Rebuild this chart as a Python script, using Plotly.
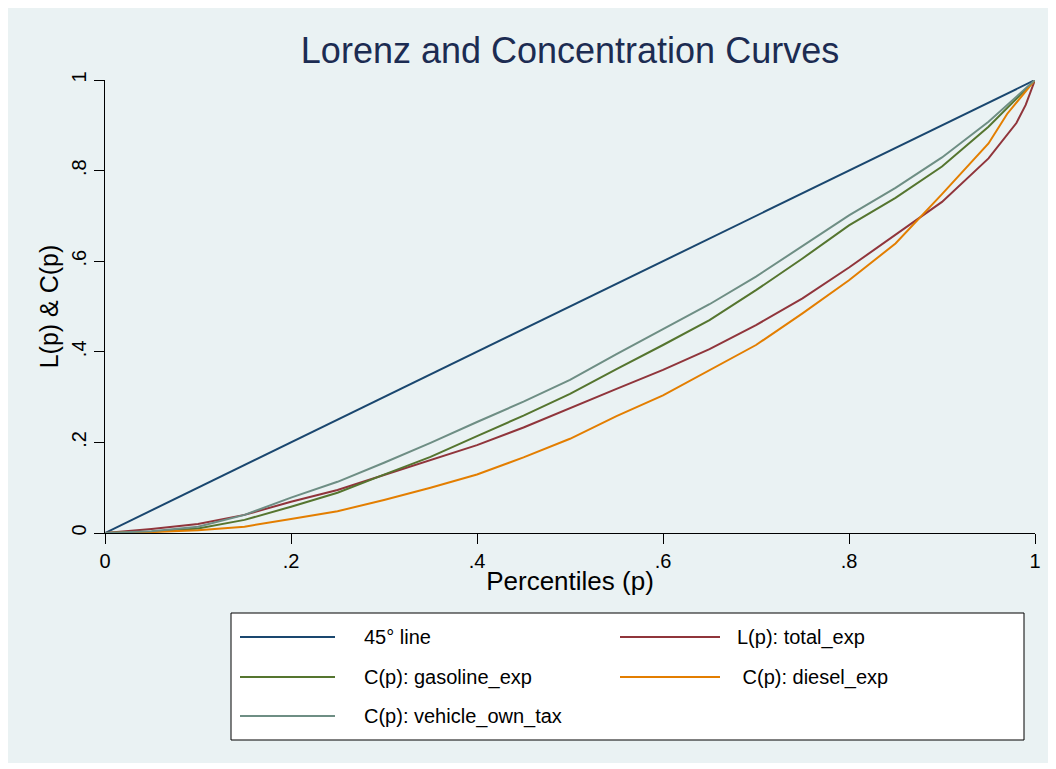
import plotly.graph_objects as go

# ---- data ----
p = [0, .05, .1, .15, .2, .25, .3, .35, .4, .45, .5, .55, .6, .65, .7, .75, .8, .85, .9, .95, 1]
vehicle_own_tax = [0, .004, .014, .040, .078, .113, .155, .199, .245, .290, .338, .395, .450, .505, .566, .634, .701, .762, .829, .908, 1]
gasoline_exp = [0, .003, .010, .029, .058, .089, .129, .168, .214, .259, .307, .362, .415, .470, .536, .606, .679, .740, .809, .897, 1]

p_total = [0, .05, .1, .15, .2, .25, .3, .35, .4, .45, .5, .55, .6, .65, .7, .75, .8, .85, .9, .95, .98, .99, 1]
total_exp = [0, .009, .020, .040, .069, .095, .128, .161, .194, .233, .276, .318, .360, .406, .459, .518, .586, .658, .731, .827, .905, .945, 1]

p_diesel = [0, .05, .1, .15, .2, .25, .3, .35, .4, .45, .5, .55, .6, .65, .7, .75, .8, .85, .88, .9, .95, .97, .99, 1]
diesel_exp = [0, .002, .006, .014, .031, .048, .073, .100, .129, .167, .208, .258, .304, .360, .415, .485, .558, .639, .704, .748, .860, .925, .975, 1]

xticks = [0, .2, .4, .6, .8, 1]
xtick_labels = ["0", ".2", ".4", ".6", ".8", "1"]
yticks = [0, .2, .4, .6, .8, 1]
ytick_labels = ["0", ".2", ".4", ".6", ".8", "1"]

labels = ["45° line", "L(p): total_exp", "C(p): gasoline_exp", " C(p): diesel_exp", "C(p): vehicle_own_tax"]
colors = ["#1a476f", "#90353b", "#55752f", "#e37e00", "#6e8e84"]

series = [
    (xticks[::5], xticks[::5]),
    (p_total, total_exp),
    (p, gasoline_exp),
    (p_diesel, diesel_exp),
    (p, vehicle_own_tax),
]

OFF = 8  # page body margin
W, H = 1056 - OFF, 769 - OFF
# plot area in page pixels
PL, PR, PT, PB = 105, 1035, 80, 533
L, R, T, B = PL - OFF, PR - OFF, PT - OFF, PB - OFF
FONT = "Liberation Sans, Arial, sans-serif"
BG = "#eaf2f3"

fig = go.Figure()
for (xs, ys), lab, col in zip(series, labels, colors):
    fig.add_trace(go.Scatter(x=xs, y=ys, mode="lines", name=lab,
                             line=dict(color=col, width=2), showlegend=False))

def px2x(px):
    return (px - PL) / (PR - PL)

def py2y(py):
    return (PB - py) / (PB - PT)

shapes = [
    # outer graph region
    dict(type="rect", xref="paper", yref="paper", layer="below",
         x0=px2x(0), x1=px2x(1050), y0=py2y(763), y1=py2y(0),
         fillcolor=BG, line=dict(width=0)),
    # right edge of plot region
    dict(type="line", xref="paper", yref="paper", layer="between",
         x0=1, x1=1, y0=0, y1=1, line=dict(color=BG, width=2)),
    # legend box
    dict(type="rect", xref="paper", yref="paper",
         x0=px2x(231), x1=px2x(1024), y0=py2y(740), y1=py2y(613),
         fillcolor="white", line=dict(color="black", width=1)),
]

annotations = []
rows = [637, 677, 716]
positions = [(0, 0), (1, 0), (0, 1), (1, 1), (0, 2)]
for (col_i, row_i), lab, col in zip(positions, labels, colors):
    y = rows[row_i]
    if col_i == 0:
        lx0, lx1, tx = 240, 335, 362
    else:
        lx0, lx1, tx = 620, 720, 735
    shapes.append(dict(type="line", xref="paper", yref="paper",
                       x0=px2x(lx0), x1=px2x(lx1), y0=py2y(y), y1=py2y(y),
                       line=dict(color=col, width=2)))
    annotations.append(dict(xref="paper", yref="paper", x=px2x(tx), y=py2y(y),
                            text=lab.replace(" ", "&nbsp;", 1) if lab.startswith(" ") else lab,
                            showarrow=False, xanchor="left", yanchor="middle",
                            font=dict(family=FONT, size=20, color="black")))

fig.update_layout(
    width=W, height=H,
    margin=dict(l=L, r=W - R, t=T, b=H - B),
    paper_bgcolor="white", plot_bgcolor="white",
    title=dict(text="Lorenz and Concentration Curves", xref="paper", x=0.5, xanchor="center",
               y=1 - (50 - OFF) / H, yanchor="middle",
               font=dict(family=FONT, size=36, color="#1c2c52")),
    font=dict(family=FONT, color="black"),
    shapes=shapes, annotations=annotations,
    xaxis=dict(range=[0, 1], tickvals=xticks, ticktext=xtick_labels,
               showgrid=False, zeroline=False, showline=True, linecolor="black", linewidth=1,
               ticks="outside", ticklen=10, tickcolor="black",
               tickfont=dict(family=FONT, size=20, color="black"),
               title=dict(text="Percentiles (p)", standoff=0,
                          font=dict(family=FONT, size=26, color="black"))),
    yaxis=dict(range=[0, 1], tickvals=yticks, ticktext=ytick_labels, tickangle=-90,
               showgrid=True, gridcolor=BG, gridwidth=2, zeroline=False,
               showline=True, linecolor="black", linewidth=1,
               ticks="outside", ticklen=10, tickcolor="black",
               tickfont=dict(family=FONT, size=20, color="black"),
               title=dict(text="L(p) & C(p)", standoff=2,
                          font=dict(family=FONT, size=25, color="black"))),
)

fig.write_html("out.html")
